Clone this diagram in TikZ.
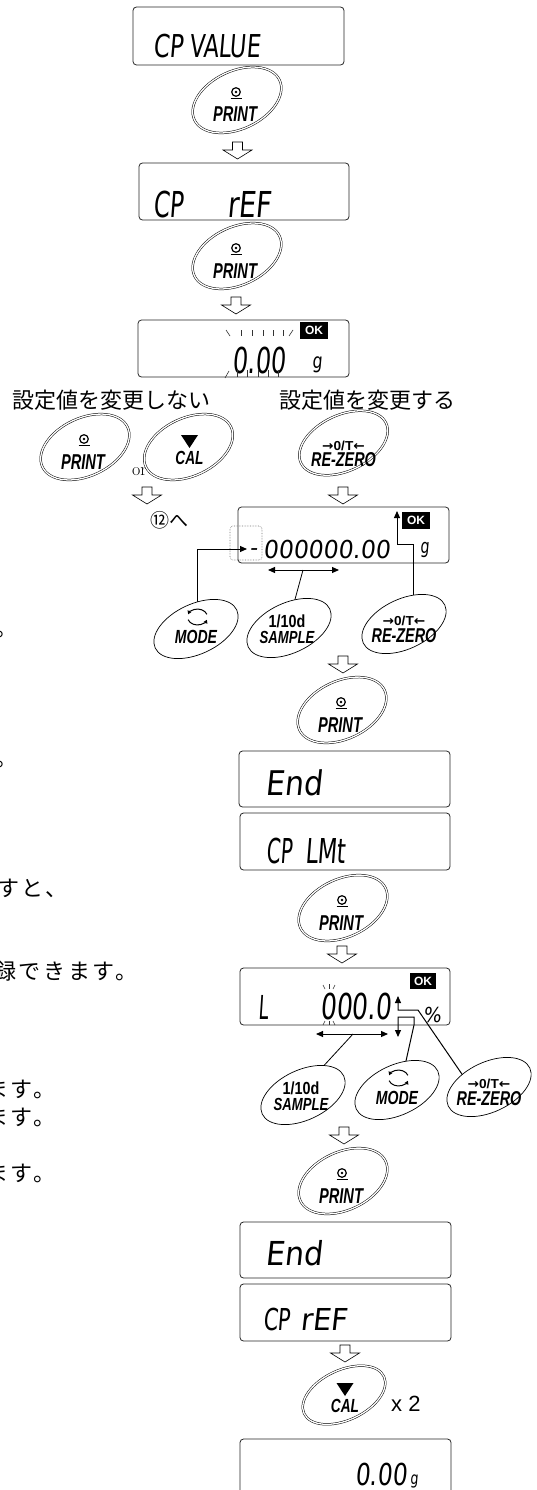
\documentclass[tikz,border=0pt]{standalone}
\usepackage{fontspec}
\usepackage{graphicx}
\usetikzlibrary{arrows.meta,calc,fit}
\newfontfamily\jp{Noto Sans CJK JP}
\newfontfamily\jpsp[LetterSpace=12]{Noto Sans CJK JP}
\newfontfamily\segfont[FakeSlant=0.12]{DejaVu Sans}
\newfontfamily\arial{Liberation Sans}
\newfontfamily\dejavu{DejaVu Sans}
\tikzset{
  disp/.style={draw=black!85, line width=0.8pt, rounded corners=3.5pt, inner sep=0pt},
  hollow/.style={draw=black, line width=0.6pt, fill=white, line join=miter},
  dbl/.style={draw=black, fill=white, line width=0.5pt, double=white, double distance=1.3pt},
  sgl/.style={draw=black, fill=white, line width=0.7pt},
  conn/.style={draw=black, line width=1pt, -{Triangle[length=7pt,width=6pt]}},
  dconn/.style={draw=black, line width=1pt, {Triangle[length=7pt,width=6pt]}-{Triangle[length=7pt,width=6pt]}},
  lead/.style={draw=black, line width=0.8pt},
  okbox/.style={fill=black, text=white, inner sep=0pt, minimum width=28pt, minimum height=17pt, font=\arial\bfseries\fontsize{12}{12}\selectfont},
  tickmark/.style={draw=black!80, line width=0.6pt},
  jptext/.style={anchor=base west, inner sep=0pt, font=\jpsp\fontsize{22}{22}\selectfont},
  jphead/.style={anchor=base west, inner sep=0pt, font=\jp\fontsize{22}{22}\selectfont},
}
\newcommand\dispbox[5]{%
  \coordinate (#1-a) at (#2,#3);
  \coordinate (#1-b) at (#4,#5);
  \node[disp, fit=(#1-a)(#1-b)] (#1) {};}
% display text: name, x, baseline, font size, horizontal scale, text
\newcommand\segt[6]{%
  \node[anchor=base west, inner sep=0pt] (#1) at (#2,#3) {\scalebox{#5}[1]{\fontsize{#4}{#4}\selectfont\segfont #6}};}
\newcommand\harrow[3]{%
  \coordinate (#1) at (#2,#3);
  \draw[hollow] ($(#1)+(-5,0)$) -- ++(0,8) -- ++(-9.5,0) -- ++(14.5,9)
     -- ++(14.5,-9) -- ++(-9.5,0) -- ++(0,-8) -- cycle;}
\newcommand\btn[6]{%
  \coordinate (#1) at (#2,#3);
  \path[#4, rotate around={25:(#1)}] (#1) ellipse [x radius=#5pt, y radius=#6pt];}
% button text: name, position, font size, horizontal scale, text
\newcommand\btext[5]{%
  \node[anchor=base, inner sep=0pt] (#1) at #2 {\scalebox{#4}[1]{\fontsize{#3}{#3}\selectfont #5}};}
\newcommand\printlbl[1]{%
  \btext{#1-t}{($(#1)+(-2,22)$)}{21.5}{0.68}{\arial\bfseries\itshape PRINT}
  \draw[line width=1.2pt] ($(#1)+(-1,-8)$) circle [radius=4.3pt];
  \fill ($(#1)+(-1,-8)$) circle [radius=1.4pt];
  \draw[line width=1.3pt] ($(#1)+(-6.5,-1.3)$) -- ++(11,0);}
\newcommand\callbl[1]{%
  \fill ($(#1)+(-7.5,-12)$) -- ++(17,0) -- ++(-8.5,13) -- cycle;
  \btext{#1-t}{($(#1)+(1,17.5)$)}{19}{0.72}{\arial\bfseries\itshape CAL}}
\newcommand\rezerolbl[3]{%
  \btext{#1-s}{($(#1)+(0,#2)$)}{13}{1.05}{\arial\bfseries{\dejavu\bfseries →}0/T{\dejavu\bfseries ←}}
  \btext{#1-t}{($(#1)+(0,#3)$)}{20}{0.72}{\arial\bfseries\itshape RE-ZERO}}
\newcommand\samplelbl[1]{%
  \btext{#1-s}{($(#1)+(-2,-1)$)}{17.5}{0.82}{\arial\bfseries 1/10d}
  \btext{#1-t}{($(#1)+(-2,15)$)}{17.5}{0.75}{\arial\bfseries\itshape SAMPLE}}
\newcommand\modelbl[1]{%
  \begin{scope}[shift={($(#1)+(1.5,-12)$)}]
    \draw[line width=1pt,-{Triangle[length=3.5pt,width=4pt]}] (9.4,-2.7) arc[start angle=20, end angle=160, x radius=10pt, y radius=8pt];
    \draw[line width=1pt,-{Triangle[length=3.5pt,width=4pt]}] (-9.4,2.7) arc[start angle=200, end angle=340, x radius=10pt, y radius=8pt];
  \end{scope}
  \btext{#1-t}{($(#1)+(0,14)$)}{19}{0.74}{\arial\bfseries\itshape MODE}}
\begin{document}
\begin{tikzpicture}[x=1pt,y=-1pt]
\useasboundingbox (0,0) rectangle (536,1490);
\clip (0,0) rectangle (536,1490);

% ---- cut-off paragraph text on the left
\node[jptext] (L1) at (-5,636) {。};
\node[jptext] (L2) at (-5,766) {。};
\node[jptext] (L3) at (-3,896) {すと、};
\node[jptext] (L4) at (-6,979) {録できます。};
\node[jptext] (L5) at (-14,1097) {ます。};
\node[jptext] (L6) at (-14,1125) {ます。};
\node[jptext] (L7) at (-14,1181) {ます。};

% ---- display 1
\dispbox{d1}{133}{7}{344}{65}
\segt{d1a}{153}{58}{31.5}{0.73}{CP}
\segt{d1b}{189}{58}{31.5}{0.71}{VALUE}
\btn{p1}{237}{100}{dbl}{47}{29}\printlbl{p1}
\harrow{a1}{237.5}{142}

% ---- display 2
\dispbox{d2}{139}{163}{349}{220}
\segt{d2a}{153}{218}{35.7}{0.65}{CP}
\segt{d2b}{227}{218}{35.7}{0.76}{rEF}
\btn{p2}{237}{256}{dbl}{47}{29}\printlbl{p2}
\harrow{a2}{236}{297}

% ---- display 3
\dispbox{d3}{138}{320}{349}{377}
\node[okbox] (ok3) at (314,330.5) {OK};
\segt{d3a}{232}{373}{35.7}{0.67}{0.00}
\segt{d3g}{312}{368.6}{21}{0.75}{g}
\draw[tickmark] (226,330) -- (230,336);
\foreach \x in {241,252,263,273,283} \draw[tickmark] (\x,330) -- (\x,336);
\draw[tickmark] (293,330) -- (289,336);
\draw[tickmark] (229,371) -- (225,378);
\foreach \x in {237,247,258,268,278} \draw[tickmark] (\x,370) -- (\x,377);

\node[jphead] (h1) at (12,408) {設定値を変更しない};
\node[jphead] (h2) at (279,408) {設定値を変更する};

\btn{p3}{85}{447}{dbl}{47}{29}\printlbl{p3}
\node[anchor=base west, inner sep=0pt, font=\fontsize{18}{18}\selectfont] (or) at (132,475) {or};
\btn{c1}{188.5}{447}{dbl}{47}{29}\callbl{c1}
\btn{r1}{343.5}{443}{dbl}{47}{28}\rezerolbl{r1}{7.5}{23.5}
\harrow{a3}{147}{487}
\node[anchor=base west, inner sep=0pt, font=\jp\fontsize{19}{19}\selectfont] (to12) at (150,527) {⑫へ};
\harrow{a4}{343}{487}

% ---- display 4
\dispbox{d4}{238}{507}{449}{563}
\node[okbox] (ok4) at (416,520.5) {OK};
\draw[densely dotted, draw=black!55, line width=0.6pt, rounded corners=3pt] (230,526) rectangle (262,560);
\node[anchor=base, inner sep=0pt, font=\segfont\fontsize{22}{22}\selectfont] (dash) at (253.5,555) {-};
\segt{d4a}{263}{558}{24.7}{0.95}{000000.00}
\segt{d4g}{420}{553.8}{20}{0.71}{g}

\coordinate (m1lead) at (197,606);
\coordinate (dashW) at (247,549);
\draw[conn] (m1lead) |- (dashW);
\coordinate (r2lead) at (413,602);
\coordinate (hook1) at (397,544);
\coordinate (uptip1) at (397,511);
\draw[conn] (r2lead) |- (hook1) -- (uptip1);
\coordinate (da1L) at (268,570);
\coordinate (da1R) at (339,570);
\draw[dconn] (da1L) -- (da1R);
\coordinate (da1m) at (303,570);
\coordinate (s1lead) at (294,603);
\draw[lead] (s1lead) -- (da1m);

\btn{m1}{196}{629}{sgl}{45}{25}\modelbl{m1}
\btn{s1}{289}{628}{sgl}{45}{25}\samplelbl{s1}
\btn{r2}{404}{624}{sgl}{45}{25}\rezerolbl{r2}{1}{18}

\harrow{a5}{343}{656}
\btn{p4}{342}{710}{dbl}{47}{29}\printlbl{p4}

% ---- display 5, 6
\dispbox{d5}{239}{751}{450}{807}
\segt{d5a}{265}{795}{34}{0.88}{End}
\dispbox{d6}{240}{813}{450}{870}
\segt{d6a}{266}{863}{34.3}{0.58}{CP}
\segt{d6b}{305}{863}{34.3}{0.65}{LMt}
\btn{p5}{343}{908}{dbl}{47}{29}\printlbl{p5}
\harrow{a6}{342}{946}

% ---- display 7
\dispbox{d7}{240}{968}{450}{1025}
\node[okbox, minimum width=26pt, minimum height=16pt] (ok7) at (423,981) {OK};
\segt{d7L}{258}{1019}{33}{0.54}{L}
\segt{d7a}{320}{1019}{35.7}{0.70}{000.0}
\segt{d7p}{423}{1022}{20.6}{0.92}{\%}
\draw[tickmark] (323,985) -- (325,989);
\draw[tickmark] (329,984) -- (329,989);
\draw[tickmark] (335,985) -- (333,989);
\draw[tickmark] (325,1021) -- (323,1025);
\draw[tickmark] (329,1021) -- (329,1025);
\draw[tickmark] (333,1021) -- (335,1025);

\coordinate (uptip2) at (398,996);
\coordinate (uphook2) at (398,1010);
\coordinate (upbend2) at (418,1010);
\coordinate (r3lead) at (466,1080);
\draw[conn] (r3lead) -- (upbend2) -- (uphook2) -- (uptip2);
\coordinate (dntip2) at (398,1037);
\coordinate (dnhook2) at (398,1017);
\coordinate (dnbend2) at (414,1017);
\coordinate (dnknee2) at (414,1025);
\coordinate (m2lead) at (404,1070);
\draw[conn] (m2lead) -- (dnknee2) -- (dnbend2) -- (dnhook2) -- (dntip2);
\coordinate (da2L) at (316,1034);
\coordinate (da2R) at (388,1034);
\draw[dconn] (da2L) -- (da2R);
\coordinate (da2m) at (353,1034);
\coordinate (s2lead) at (318,1072);
\draw[lead] (s2lead) -- (da2m);

\btn{s2}{303}{1095}{sgl}{45}{25}\samplelbl{s2}
\btn{m2}{397}{1090}{sgl}{45}{25}\modelbl{m2}
\btn{r3}{489}{1087}{sgl}{45}{25}\rezerolbl{r3}{1}{18}

\harrow{a7}{344}{1127}
\btn{p6}{343}{1181}{dbl}{47}{29}\printlbl{p6}

% ---- display 8, 9
\dispbox{d8}{240}{1222}{451}{1278}
\segt{d8a}{265}{1265}{33}{0.91}{End}
\dispbox{d9}{240}{1284}{451}{1341}
\segt{d9a}{263}{1330}{30.2}{0.69}{CP}
\segt{d9b}{300}{1330}{30.2}{0.96}{rEF}
\harrow{a8}{345}{1345}
\btn{c2}{344}{1395}{dbl}{44}{25}\callbl{c2}
\node[anchor=base west, inner sep=0pt, font=\arial\fontsize{22}{22}\selectfont] (x2) at (391,1411) {x 2};

% ---- display 10
\dispbox{d10}{240}{1439}{451}{1500}
\segt{d10a}{355}{1485}{30.2}{0.77}{0.00}
\segt{d10g}{410}{1484.4}{17.3}{0.73}{g}
\end{tikzpicture}
\end{document}
